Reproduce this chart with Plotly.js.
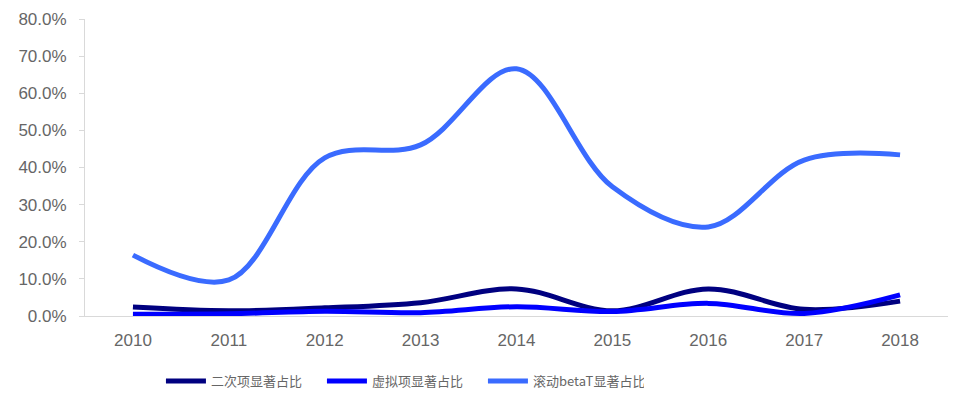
<!DOCTYPE html>
<html>
<head>
<meta charset="utf-8">
<script src="https://cdn.plot.ly/plotly-3.0.1.min.js"></script>
<style>html,body{margin:0;padding:0;background:#fff;}#chart{width:957px;height:399px;}</style>
</head>
<body>
<div id="chart"></div>
<script>
const years = ['2010','2011','2012','2013','2014','2015','2016','2017','2018'];
const seriesNames = ['二次项显著占比','虚拟项显著占比','滚动betaT显著占比'];
const quadratic = [0.024, 0.014, 0.022, 0.036, 0.073, 0.014, 0.073, 0.018, 0.040];
const dummy     = [0.005, 0.006, 0.013, 0.009, 0.025, 0.012, 0.034, 0.007, 0.057];
const rollingBeta = [0.164, 0.097, 0.426, 0.461, 0.666, 0.348, 0.240, 0.420, 0.434];
const colors = ['#000080', '#0000FF', '#3A6BFF'];

const allSeries = [quadratic, dummy, rollingBeta];
const traces = allSeries.map((vals, i) => ({
  type: 'scatter',
  mode: 'lines',
  x: years,
  y: vals,
  name: seriesNames[i],
  line: {color: colors[i], width: 5, shape: 'spline', smoothing: 1},
  hoverinfo: 'x+y'
}));

const layout = {
  width: 957, height: 399,
  margin: {l: 85, r: 9, t: 19, b: 83},
  paper_bgcolor: '#fff', plot_bgcolor: '#fff',
  font: {family: 'Liberation Sans, Arial, sans-serif', color: '#666666', size: 17},
  xaxis: {
    type: 'category',
    range: [-0.5, 8.5],
    automargin: false,
    showline: true, linecolor: '#d9d9d9', linewidth: 1,
    ticks: '', showgrid: false, zeroline: false,
    ticklabelstandoff: 9,
    tickfont: {size: 17, color: '#666666'}
  },
  yaxis: {
    range: [0, 0.8],
    automargin: false,
    dtick: 0.1, tick0: 0,
    tickformat: '.1%',
    showline: true, linecolor: '#d9d9d9', linewidth: 1,
    ticks: 'outside', ticklen: 5, tickcolor: '#d9d9d9',
    showgrid: false, zeroline: false,
    ticklabelstandoff: 9,
    tickfont: {size: 17, color: '#666666'}
  },
  showlegend: true,
  legend: {
    orientation: 'h',
    x: 0.088, xanchor: 'left',
    yref: 'container',
    y: 0.045, yanchor: 'middle',
    font: {family: 'Noto Sans CJK SC, sans-serif', size: 13, color: '#666666'},
    itemwidth: 40,
    entrywidth: 106
  }
};

Plotly.newPlot('chart', traces, layout, {displayModeBar: false, staticPlot: true});
</script>
</body>
</html>
